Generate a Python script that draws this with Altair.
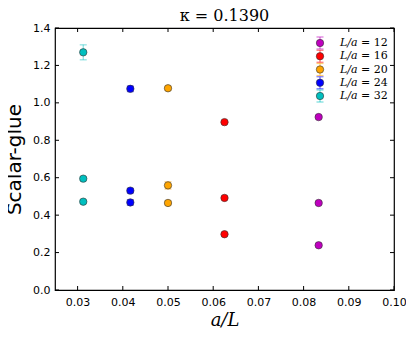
import altair as alt
import pandas as pd

labels = ["L/a = 12", "L/a = 16", "L/a = 20", "L/a = 24", "L/a = 32"]
legend_nums = ["= 12", "= 16", "= 20", "= 24", "= 32"]
colors = ["#bf00bf", "#ff0000", "#ffa500", "#0000ff", "#00bfbf"]
x_vals = [1/12, 1/16, 1/20, 1/24, 1/32]
y_high = [0.924, 0.897, 1.078, 1.075, 1.270]
y_mid = [0.465, 0.492, 0.559, 0.531, 0.595]
y_low = [0.239, 0.298, 0.465, 0.468, 0.472]
e_high = [0.008, 0.008, 0.010, 0.015, 0.040]
e_mid = [0.008, 0.008, 0.020, 0.012, 0.010]
e_low = [0.008, 0.008, 0.010, 0.015, 0.008]
x_ticks = [0.03, 0.04, 0.05, 0.06, 0.07, 0.08, 0.09, 0.10]
y_ticks = [0.0, 0.2, 0.4, 0.6, 0.8, 1.0, 1.2, 1.4]

rows = []
for i, lab in enumerate(labels):
    for yv, ev in [(y_high[i], e_high[i]), (y_mid[i], e_mid[i]), (y_low[i], e_low[i])]:
        rows.append({"series": lab, "x": x_vals[i], "y": yv, "lo": yv - ev, "hi": yv + ev})
df = pd.DataFrame(rows)

W, H = 339, 262
xs = alt.Scale(domain=[0.025, 0.10], nice=False, zero=False, padding=0)
ys = alt.Scale(domain=[0.0, 1.4], nice=False, zero=False, padding=0)
cs = alt.Scale(domain=labels, range=colors)

xaxis = alt.Axis(values=x_ticks, format=".2f", title="a/L", ticks=False, labelOverlap=False,
                 labelFlush=False, labelBound=False,
                 labelPadding=6, labelFont="DejaVu Sans", labelFontSize=11,
                 labelColor="black", titleFont="DejaVu Serif",
                 titleFontStyle="italic", titleFontWeight="normal",
                 titleFontSize=18, titleColor="black", titlePadding=4,
                 domain=False, grid=False)
yaxis = alt.Axis(values=y_ticks, format=".1f", title="Scalar-glue", ticks=False, labelOverlap=False,
                 labelFlush=False, labelBound=False,
                 labelPadding=5, labelFont="DejaVu Sans", labelFontSize=11,
                 labelColor="black", titleFont="DejaVu Sans",
                 titleFontWeight="normal", titleFontSize=20, titleColor="black",
                 titlePadding=8, domain=False, grid=False)

base = alt.Chart(df)
err = base.mark_errorbar(ticks=alt.MarkConfig(size=7, opacity=0.45), opacity=0.45, thickness=1.2).encode(
    x=alt.X("x:Q", scale=xs, axis=xaxis),
    y=alt.Y("lo:Q", scale=ys, axis=yaxis, title="Scalar-glue"),
    y2="hi:Q",
    color=alt.Color("series:N", scale=cs, legend=None),
)
pts = base.mark_point(filled=True, size=55, opacity=1, stroke="#333333", strokeWidth=0.6).encode(
    x=alt.X("x:Q", scale=xs, axis=xaxis),
    y=alt.Y("y:Q", scale=ys, axis=yaxis, title="Scalar-glue"),
    fill=alt.Fill("series:N", scale=cs, legend=None),
)

# inward ticks
xt = pd.DataFrame({"t": x_ticks})
yt = pd.DataFrame({"t": y_ticks})
tick_b = alt.Chart(xt).mark_rule(color="black", strokeWidth=1).encode(
    x=alt.X("t:Q", scale=xs, axis=xaxis), y=alt.value(H), y2=alt.value(H - 4))
tick_t = alt.Chart(xt).mark_rule(color="black", strokeWidth=1).encode(
    x=alt.X("t:Q", scale=xs, axis=xaxis), y=alt.value(0), y2=alt.value(4))
tick_l = alt.Chart(yt).mark_rule(color="black", strokeWidth=1).encode(
    y=alt.Y("t:Q", scale=ys, axis=yaxis), x=alt.value(0), x2=alt.value(4))
tick_r = alt.Chart(yt).mark_rule(color="black", strokeWidth=1).encode(
    y=alt.Y("t:Q", scale=ys, axis=yaxis), x=alt.value(W), x2=alt.value(W - 4))

# legend
leg = pd.DataFrame({"series": labels, "num": legend_nums})
lscale = alt.Scale(domain=labels, range=[15, 68], type="point", padding=0)
ly = alt.Y("series:N", scale=lscale, axis=None)
LX = 265
leg_line = alt.Chart(leg).mark_tick(orient="vertical", size=12, thickness=1.2, opacity=0.55).encode(
    x=alt.value(LX), y=ly, color=alt.Color("series:N", scale=cs, legend=None))
leg_cap1 = alt.Chart(leg).mark_tick(orient="horizontal", size=7, thickness=1.2, opacity=0.55, yOffset=-6).encode(
    x=alt.value(LX), y=ly, color=alt.Color("series:N", scale=cs, legend=None))
leg_cap2 = alt.Chart(leg).mark_tick(orient="horizontal", size=7, thickness=1.2, opacity=0.55, yOffset=6).encode(
    x=alt.value(LX), y=ly, color=alt.Color("series:N", scale=cs, legend=None))
leg_pts = alt.Chart(leg).mark_point(filled=True, size=55, opacity=1, stroke="#333333", strokeWidth=0.6).encode(
    x=alt.value(LX), y=ly, fill=alt.Fill("series:N", scale=cs, legend=None))
leg_txt1 = alt.Chart(leg).mark_text(align="left", baseline="middle", font="DejaVu Serif",
                                    fontStyle="italic", fontSize=11, color="black").encode(
    x=alt.value(285), y=ly, text=alt.value("L/a"))
leg_txt2 = alt.Chart(leg).mark_text(align="left", baseline="middle", font="DejaVu Serif",
                                    fontSize=11, color="black").encode(
    x=alt.value(306), y=ly, text="num:N")

legend_layer = alt.layer(leg_line, leg_cap1, leg_cap2, leg_pts, leg_txt1, leg_txt2)

main = alt.layer(err, pts, tick_b, tick_t, tick_l, tick_r)
chart = alt.layer(main, legend_layer).resolve_scale(y="independent").properties(
    width=W, height=H,
    title=alt.Title("κ = 0.1390", font="DejaVu Serif", fontSize=16, fontWeight="normal", color="black",
                    offset=-2, frame="group"),
    autosize=alt.AutoSizeParams(type="none"),
    padding={"left": 47, "top": 20, "right": 12, "bottom": 40},
).configure_view(stroke="black", strokeWidth=1.2)

chart.save("out.html", embed_options={"renderer": "svg", "actions": False})
